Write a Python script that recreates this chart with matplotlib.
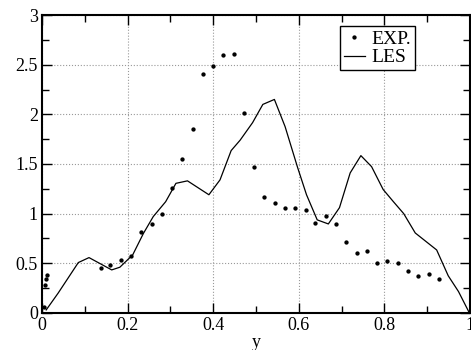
import matplotlib
matplotlib.use("Agg")
import matplotlib.pyplot as plt
from matplotlib.ticker import MultipleLocator

# experimental points
exp_x = [0.005, 0.008, 0.010, 0.012, 0.137, 0.160, 0.185, 0.209, 0.232, 0.256,
         0.280, 0.304, 0.328, 0.352, 0.376, 0.400, 0.424, 0.448, 0.472, 0.495,
         0.519, 0.544, 0.568, 0.592, 0.616, 0.639, 0.664, 0.687, 0.711, 0.735,
         0.759, 0.783, 0.807, 0.831, 0.855, 0.879, 0.903, 0.927]
exp_y = [0.06, 0.28, 0.34, 0.38, 0.45, 0.48, 0.53, 0.57, 0.81, 0.90,
         1.00, 1.26, 1.55, 1.85, 2.41, 2.49, 2.60, 2.605, 2.01, 1.47,
         1.165, 1.105, 1.055, 1.057, 1.035, 0.91, 0.975, 0.90, 0.71, 0.605,
         0.625, 0.50, 0.52, 0.50, 0.425, 0.373, 0.393, 0.345]

# LES curve
les_x = [0.010, 0.038, 0.085, 0.110, 0.163, 0.182, 0.212, 0.237, 0.260, 0.289,
         0.313, 0.340, 0.390, 0.416, 0.442, 0.463, 0.492, 0.516, 0.543, 0.568,
         0.597, 0.618, 0.643, 0.669, 0.695, 0.720, 0.745, 0.770, 0.797, 0.821,
         0.845, 0.872, 0.922, 0.949, 0.973, 0.998]
les_y = [0.03, 0.20, 0.507, 0.557, 0.433, 0.46, 0.584, 0.80, 0.97, 1.12,
         1.305, 1.33, 1.19, 1.34, 1.635, 1.74, 1.916, 2.10, 2.15, 1.876,
         1.467, 1.19, 0.937, 0.896, 1.06, 1.41, 1.584, 1.473, 1.243, 1.12,
         1.00, 0.805, 0.634, 0.374, 0.215, 0.003]

plt.rcParams['font.family'] = ['Liberation Serif', 'DejaVu Serif']
plt.rcParams['font.size'] = 13

fig = plt.figure(figsize=(4.71, 3.5), dpi=100)
ax = fig.add_axes([0.089, 0.106, 0.909, 0.851])

ax.plot(exp_x, exp_y, linestyle='none', marker='o', markersize=2.1,
        color='black', label='EXP.')
ax.plot(les_x, les_y, color='black', linewidth=0.9, label='LES')

ax.set_xlim(0, 1)
ax.set_ylim(0, 3)
ax.xaxis.set_major_locator(MultipleLocator(0.2))
ax.xaxis.set_minor_locator(MultipleLocator(0.1))
ax.yaxis.set_major_locator(MultipleLocator(0.5))
ax.yaxis.set_minor_locator(MultipleLocator(0.25))
ax.set_xticks([0, 0.2, 0.4, 0.6, 0.8, 1.0])
ax.set_xticklabels(['0', '0.2', '0.4', '0.6', '0.8', '1'])
ax.set_yticks([0, 0.5, 1, 1.5, 2, 2.5, 3])
ax.set_yticklabels(['0', '0.5', '1', '1.5', '2', '2.5', '3'])

ax.tick_params(which='both', direction='in', top=True, right=True, width=1)
ax.tick_params(which='major', length=7, pad=3)
ax.tick_params(which='minor', length=5)
for s in ax.spines.values():
    s.set_linewidth(1.5)

ax.grid(True, which='major', linestyle=':', linewidth=0.8, color='#999999')

ax.set_xlabel('y', labelpad=0)

leg = ax.legend(loc='upper right', bbox_to_anchor=(0.872, 0.962),
                fancybox=False, framealpha=1, edgecolor='black',
                handlelength=1.1, handletextpad=0.35, borderpad=0.2,
                labelspacing=0.05, borderaxespad=0, fontsize=14)
leg.get_frame().set_linewidth(1.0)

fig.savefig('out.png', dpi=100)
